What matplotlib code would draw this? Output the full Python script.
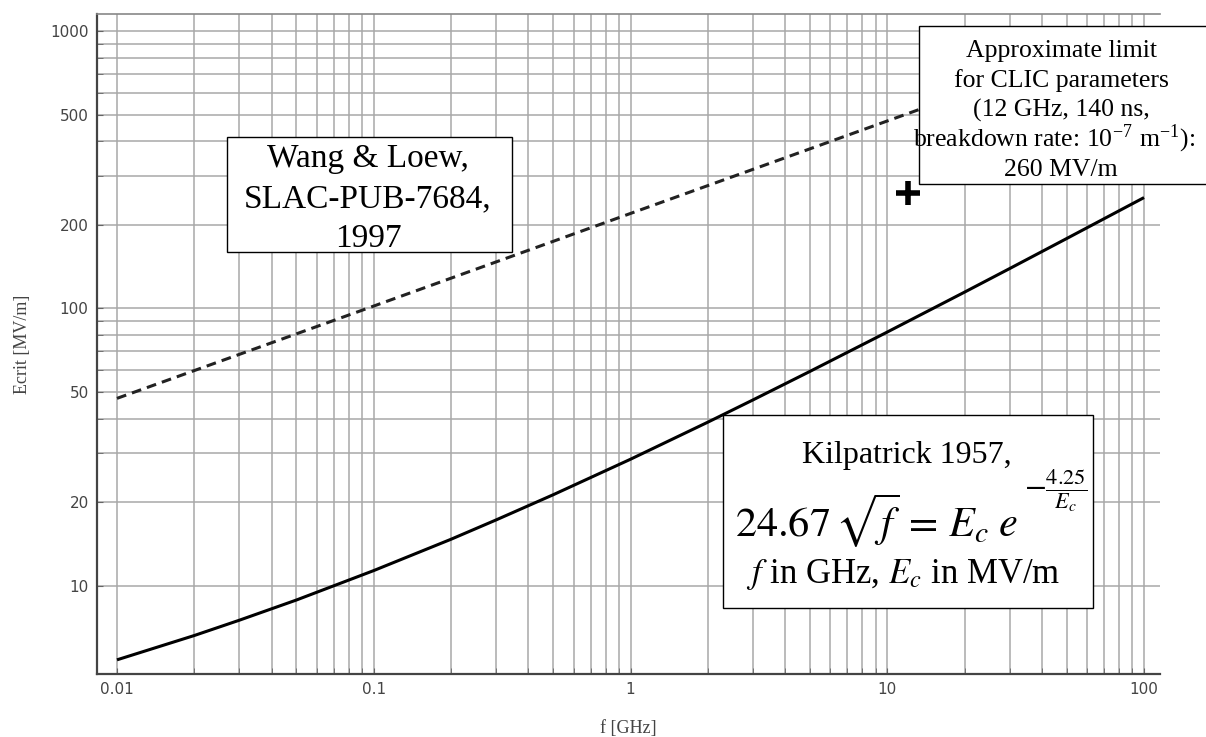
import matplotlib
matplotlib.use("Agg")
import matplotlib.pyplot as plt
from matplotlib.patches import Rectangle
from matplotlib.ticker import FixedLocator, NullFormatter

# Curve values (f in GHz, E in MV/m)
freq_kilp = [0.01, 0.02, 0.03, 0.05, 0.1, 0.2, 0.3, 0.5, 1, 2, 3, 5, 10, 20, 30, 50, 100]
e_kilp = [5.41, 6.62, 7.52, 8.89, 11.35, 14.72, 17.29, 21.3, 28.6, 38.9, 46.8, 59.3,
          82.2, 114.5, 139.3, 178.7, 251]

freq_wang = [0.01, 0.1, 1, 10, 100]
e_wang = [47.4, 102, 220, 474, 1021]

clic_point = (12, 260)

# Ticks
x_major = [0.01, 0.1, 1, 10, 100]
x_labels = ["0.01", "0.1", "1", "10", "100"]
x_minor = [m * d for d in [0.01, 0.1, 1, 10] for m in range(2, 10)]
y_major = [10, 20, 50, 100, 200, 500, 1000]
y_labels = ["10", "20", "50", "100", "200", "500", "1000"]
y_minor = [30, 40, 60, 70, 80, 90, 300, 400, 600, 700, 800, 900]

W, H = 1206, 737
plt.rcParams["mathtext.fontset"] = "stix"
serif = ["Liberation Serif", "DejaVu Serif"]
narrow = ["Liberation Sans Narrow", "DejaVu Sans"]

fig = plt.figure(figsize=(W / 100, H / 100), dpi=100)
ax = fig.add_axes([97 / W, 1 - 674 / H, (1160 - 97) / W, (674 - 14) / H])
ax.set_xscale("log")
ax.set_yscale("log")
ax.set_xlim(0.00836, 115.4)
ax.set_ylim(4.81, 1152)

ax.xaxis.set_major_locator(FixedLocator(x_major))
ax.xaxis.set_minor_locator(FixedLocator(x_minor))
ax.yaxis.set_major_locator(FixedLocator(y_major))
ax.yaxis.set_minor_locator(FixedLocator(y_minor))
ax.set_xticklabels(x_labels)
ax.set_yticklabels(y_labels)
ax.xaxis.set_minor_formatter(NullFormatter())
ax.yaxis.set_minor_formatter(NullFormatter())
for lab in ax.get_xticklabels() + ax.get_yticklabels():
    lab.set_family(narrow)
    lab.set_fontsize(11)
    lab.set_color("#444444")
ax.tick_params(which="both", direction="in", length=4, color="#666666", pad=6)
ax.grid(True, which="both", color="#a8a8a8", linewidth=1.1)
ax.set_axisbelow(True)

ax.spines["right"].set_visible(False)
ax.spines["top"].set_color("#888888")
ax.spines["top"].set_linewidth(1.2)
for s in ["left", "bottom"]:
    ax.spines[s].set_color("#444444")
    ax.spines[s].set_linewidth(1.6)

ax.plot(freq_kilp, e_kilp, color="black", linewidth=2.2, solid_capstyle="butt")
ax.plot(freq_wang, e_wang, color="#222222", linewidth=2.2, linestyle=(0, (3.2, 2.0)))
ax.plot([clic_point[0]], [clic_point[1]], marker="+", markersize=17,
        markeredgewidth=4, color="black", linestyle="none")

ax.set_xlabel("f [GHz]", family=serif, fontsize=13, color="#444444")
ax.set_ylabel("Ecrit [MV/m]", family=serif, fontsize=13, color="#444444")
ax.xaxis.set_label_coords(0.5, -0.07)
ax.yaxis.set_label_coords(-0.062, 0.5)


def px(x, y):
    return x / W, 1 - y / H


def box(x0, y0, x1, y1):
    fig.add_artist(Rectangle(px(x0, y1), (x1 - x0) / W, (y1 - y0) / H,
                             transform=fig.transFigure, facecolor="white",
                             edgecolor="black", linewidth=1.0, zorder=5))


def line(x, y, s, size, ha="center"):
    fig.text(*px(x, y), s, family=serif, fontsize=size, ha=ha, va="baseline",
             color="black", zorder=6)


# Wang & Loew box
box(227, 137, 512, 252)
line(368, 167, "Wang & Loew,", 24)
line(368, 207, "SLAC-PUB-7684,", 24)
line(368, 247, "1997", 24)

# CLIC box
box(919, 26, 1210, 184)
line(1061, 57, "Approximate limit", 18.5)
line(1061, 87, "for CLIC parameters", 18.5)
line(1061, 117, "(12 GHz, 140 ns,", 18.5)
line(1054, 146, r"breakdown rate: 10$^{\mathregular{-7}}$ m$^{\mathregular{-1}}$):", 18.5)
line(1061, 176, "260 MV/m", 18.5)

# Kilpatrick box
box(723, 415, 1093, 608)
line(907, 463, "Kilpatrick 1957,", 23)
line(735, 537, r"$24.67\,\sqrt{f}\,=\,E_c\;e$", 30.5, ha="left")
fig.text(*px(1024, 490), r"$-\frac{4.25}{E_c}$", fontsize=23, ha="left",
         va="center", zorder=6)
line(903, 583, r"$f$ in GHz, $E_c$ in MV/m", 25)

fig.savefig("out.png", dpi=100)
